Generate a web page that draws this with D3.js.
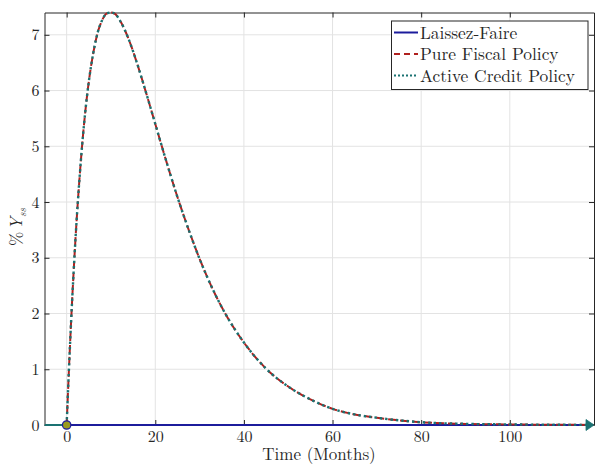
<!DOCTYPE html>
<html>
<head>
<meta charset="utf-8">
<script src="https://cdn.jsdelivr.net/npm/d3@7"></script>
<style>
  html, body { margin: 0; padding: 0; background: #fff; }
  svg { display: block; }
</style>
</head>
<body>
<svg id="chart" width="595" height="464"></svg>
<script>
// ---- data ----
const months = [0, 0.5, 1, 1.5, 2, 3, 4, 5, 6, 7, 8, 9, 10, 11, 12, 14, 16, 18, 20, 22, 25, 28, 30, 33, 36, 40, 45, 50, 55, 60, 65, 70, 80, 90, 100, 110, 119];
const pureFiscal = [0, 0.97, 1.85, 2.64, 3.35, 4.53, 5.46, 6.16, 6.67, 7.04, 7.26, 7.38, 7.40, 7.37, 7.26, 6.92, 6.46, 5.94, 5.40, 4.86, 4.09, 3.40, 2.98, 2.43, 1.97, 1.48, 1.01, 0.69, 0.46, 0.29, 0.19, 0.13, 0.05, 0.02, 0.01, 0.004, 0.002];
const activeCredit = [0, 0.97, 1.85, 2.64, 3.35, 4.53, 5.46, 6.16, 6.67, 7.04, 7.26, 7.38, 7.40, 7.37, 7.26, 6.92, 6.46, 5.94, 5.40, 4.86, 4.09, 3.40, 2.98, 2.43, 1.97, 1.48, 1.01, 0.69, 0.46, 0.29, 0.19, 0.13, 0.05, 0.02, 0.01, 0.004, 0.002];
const laissezMonths = [0, 119];
const laissezFaire = [0, 0];
const preShockMonths = [-5, 0];
const preShock = [0, 0];
const xTicks = [0, 20, 40, 60, 80, 100];
const yTicks = [0, 1, 2, 3, 4, 5, 6, 7];
const xDomain = [-5, 119];
const seriesNames = ["Laissez-Faire", "Pure Fiscal Policy", "Active Credit Policy"];

// ---- layout ----
const FONT = "Latin Modern Roman";
const svg = d3.select("#chart");
const L = 44.5, R = 594, T = 12.5, B = 425;
const x = d3.scaleLinear().domain(xDomain).range([L, R]);
const y = d3.scaleLinear().domain([0, d3.max(pureFiscal)]).range([B, T]);

const blue = "#1c1c9c", red = "#b0201e", teal = "#1a7272", axisCol = "#262626", gridCol = "#e3e3e3";

// grid
const g = svg.append("g");
g.selectAll(".gx").data(xTicks).join("line")
  .attr("x1", d => x(d)).attr("x2", d => x(d)).attr("y1", T).attr("y2", B)
  .attr("stroke", gridCol).attr("stroke-width", 1);
g.selectAll(".gy").data(yTicks).join("line")
  .attr("x1", L).attr("x2", R).attr("y1", d => y(d)).attr("y2", d => y(d))
  .attr("stroke", gridCol).attr("stroke-width", 1);

// axes
const tickLen = 5;
const xAxisB = d3.axisBottom(x).tickValues(xTicks).tickSizeInner(-tickLen).tickSizeOuter(0).tickPadding(6);
const yAxisL = d3.axisLeft(y).tickValues(yTicks).tickSizeInner(-tickLen).tickSizeOuter(0).tickPadding(5);
const xAxisT = d3.axisTop(x).tickValues(xTicks).tickSizeInner(-tickLen).tickSizeOuter(0).tickFormat("");
const yAxisR = d3.axisRight(y).tickValues(yTicks).tickSizeInner(-tickLen).tickSizeOuter(0).tickFormat("");

function styleAxis(sel) {
  sel.attr("font-family", FONT).attr("font-size", 16);
  sel.selectAll("path").attr("stroke", axisCol).attr("stroke-width", 1);
  sel.selectAll("line").attr("stroke", axisCol).attr("stroke-width", 1);
  sel.selectAll("text").attr("fill", "#262626");
}
svg.append("g").attr("transform", `translate(0,${B})`).call(xAxisB).call(styleAxis);
svg.append("g").attr("transform", `translate(${L},0)`).call(yAxisL).call(styleAxis);
svg.append("g").attr("transform", `translate(0,${T})`).call(xAxisT).call(styleAxis);
svg.append("g").attr("transform", `translate(${R},0)`).call(yAxisR).call(styleAxis);

// lines
const line = d3.line().x(d => x(d[0])).y(d => y(d[1])).curve(d3.curveMonotoneX);
svg.append("clipPath").attr("id", "clip").append("rect")
  .attr("x", L).attr("y", T - 2).attr("width", R - L).attr("height", B - T + 4);
const plot = svg.append("g").attr("clip-path", "url(#clip)");

plot.append("path").datum(d3.zip(preShockMonths, preShock)).attr("d", line)
  .attr("fill", "none").attr("stroke", teal).attr("stroke-width", 2.2);
plot.append("path").datum(d3.zip(laissezMonths, laissezFaire)).attr("d", line)
  .attr("fill", "none").attr("stroke", blue).attr("stroke-width", 2.2);
plot.append("path").datum(d3.zip(months, pureFiscal)).attr("d", line)
  .attr("fill", "none").attr("stroke", red).attr("stroke-width", 2)
  .attr("stroke-dasharray", "8,4");
plot.append("path").datum(d3.zip(months, activeCredit)).attr("d", line)
  .attr("fill", "none").attr("stroke", teal).attr("stroke-width", 2.4)
  .attr("stroke-dasharray", "2.4,3");

// arrow at the end of the horizon
const endX = x(laissezMonths[1]), endY = y(laissezFaire[1]);
svg.append("path")
  .attr("d", `M${endX - 8},${endY - 5.5} L${endX},${endY} L${endX - 8},${endY + 5.5} Z`)
  .attr("fill", teal).attr("stroke", teal).attr("stroke-width", 0.8);

// shock marker
svg.append("circle").attr("cx", x(0)).attr("cy", y(0)).attr("r", 4.2)
  .attr("fill", "#999a1e").attr("stroke", blue).attr("stroke-width", 1.2);

// axis labels
svg.append("text").attr("x", 319).attr("y", 460).attr("text-anchor", "middle")
  .attr("font-family", FONT).attr("fill", "#262626")
  .attr("font-size", 17).text("Time (Months)");
const yl = svg.append("text").attr("transform", "translate(22,227) rotate(-90)")
  .attr("font-family", FONT).attr("fill", "#262626")
  .attr("text-anchor", "middle").attr("font-size", 17);
yl.append("tspan").text("%");
yl.append("tspan").attr("font-style", "italic").attr("dx", 2).text("Y");
yl.append("tspan").attr("font-style", "italic").attr("font-size", 11).attr("dy", 3.5).text("ss");

// legend
const lg = svg.append("g");
lg.append("rect").attr("x", 391.5).attr("y", 21).attr("width", 196.5).attr("height", 68.5)
  .attr("fill", "#fff").attr("stroke", axisCol).attr("stroke-width", 1);
const legStyles = [
  { color: blue, dash: null },
  { color: red, dash: "6,4" },
  { color: teal, dash: "2,2" }
];
const legY = [32.5, 54, 75.5];
seriesNames.forEach((name, i) => {
  lg.append("line").attr("x1", 394).attr("x2", 418).attr("y1", legY[i]).attr("y2", legY[i])
    .attr("stroke", legStyles[i].color).attr("stroke-width", 2)
    .attr("stroke-dasharray", legStyles[i].dash);
  lg.append("text").attr("x", 420).attr("y", legY[i] + 6)
    .attr("font-family", FONT).attr("fill", "#262626")
    .attr("font-size", 17.4).text(name);
});
</script>
</body>
</html>
